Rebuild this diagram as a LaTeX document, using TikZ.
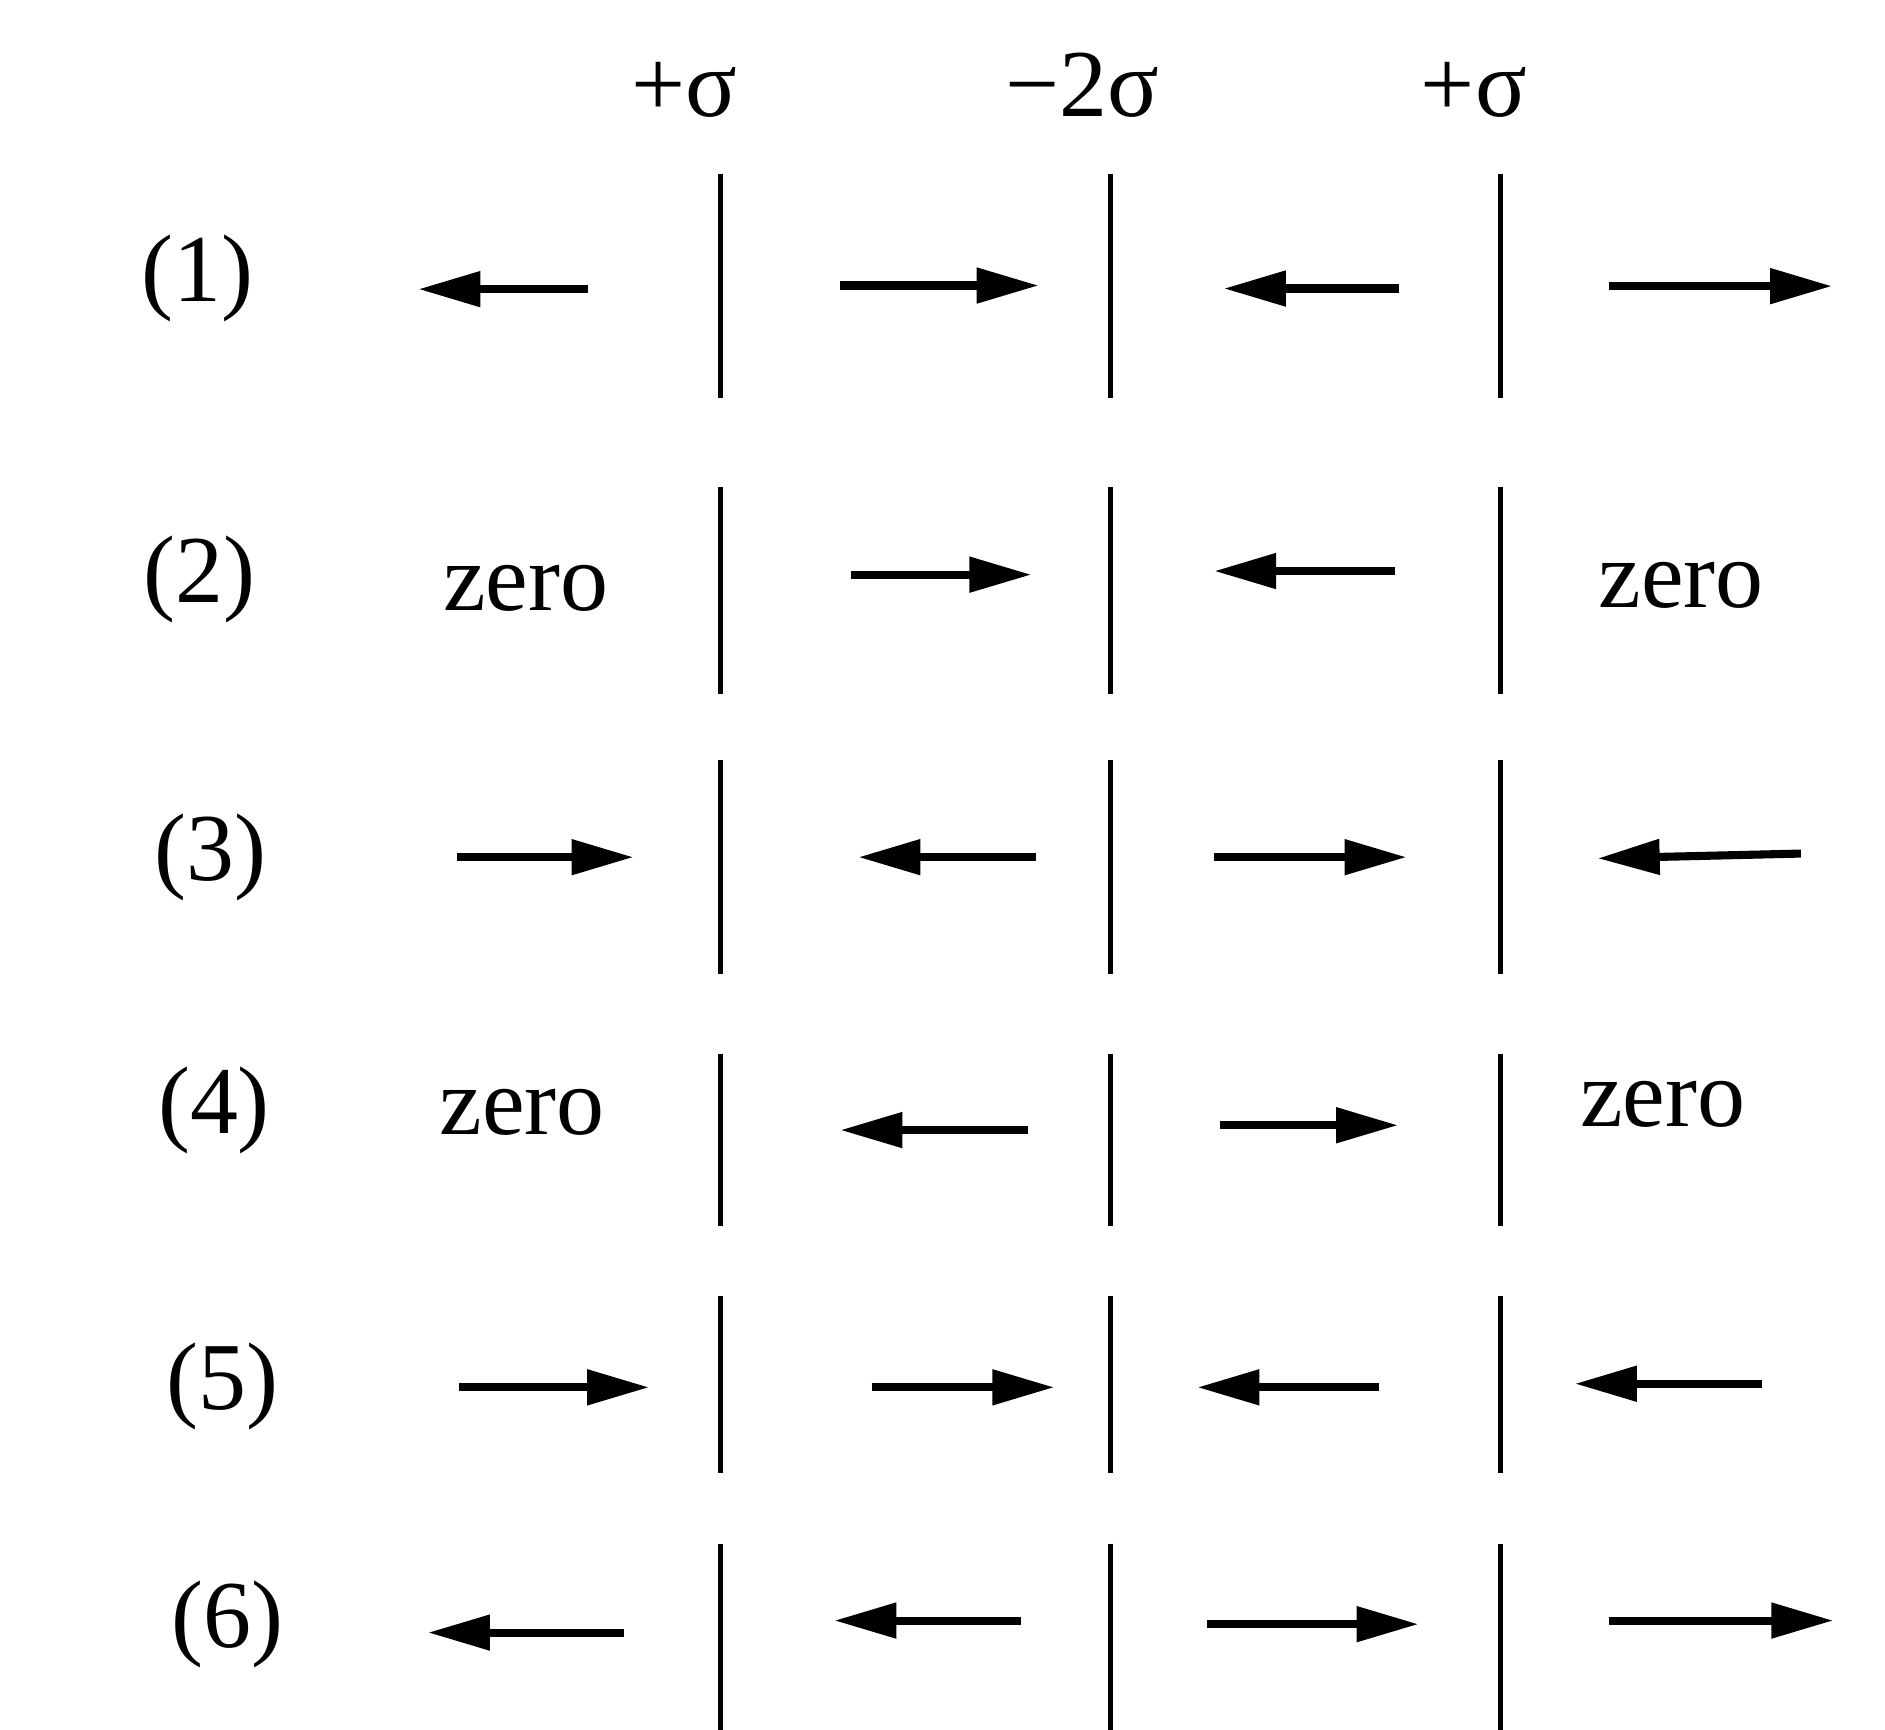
\documentclass[tikz,border=0pt]{standalone}
\usepackage{fontspec}
\setmainfont{Liberation Serif}
\usetikzlibrary{arrows.meta}
\begin{document}
\begin{tikzpicture}[x=0.012022cm,y=-0.012022cm,
  wall/.style={line width=1.4pt},
  fld/.style={line width=2.3pt,-{Triangle[length=0.62cm,width=0.34cm]}},
  lbl/.style={inner sep=0pt,font=\fontsize{27.3}{33}\selectfont},
  toplbl/.style={lbl,anchor=base},
  zerolbl/.style={lbl,anchor=base west}]
\fill[white] (0,0) rectangle (1568,1439);
\useasboundingbox (0,0) rectangle (1568,1439);
% charge labels
\node[toplbl] (s1) at (569,97) {+σ};
\node[toplbl] (s2) at (900,97) {−2σ};
\node[toplbl] (s3) at (1226,97) {+σ};
% walls
\foreach \t/\b in {145/331,405/577,632/810,877/1020,1078/1225,1284/1439}{
  \draw[wall] (599,\t) -- (599,\b);
  \draw[wall] (924,\t) -- (924,\b);
  \draw[wall] (1248,\t) -- (1248,\b);
}
% row labels
\node[lbl] (r1) at (164,232) {(1)};
\node[lbl] (r2) at (166,482) {(2)};
\node[lbl] (r3) at (175,713) {(3)};
\node[lbl] (r4) at (178,924) {(4)};
\node[lbl] (r5) at (185,1153) {(5)};
\node[lbl] (r6) at (189,1351) {(6)};
% row 1
\draw[fld] (489,240.5) -- (348,240.5);
\draw[fld] (699,237.5) -- (864,237.5);
\draw[fld] (1164,240) -- (1018,240);
\draw[fld] (1338,238) -- (1524,238);
% row 2
\node[zerolbl] (z2a) at (368,508) {zero};
\draw[fld] (708,478) -- (858,478);
\draw[fld] (1160,475) -- (1010,475);
\node[zerolbl] (z2b) at (1329,505) {zero};
% row 3
\draw[fld] (380,713) -- (527,713);
\draw[fld] (862,713) -- (714,713);
\draw[fld] (1010,713) -- (1170,713);
\draw[fld] (1498,710) -- (1329,714);
% row 4
\node[zerolbl] (z4a) at (365,944) {zero};
\draw[fld] (855,940) -- (699,940);
\draw[fld] (1015,936) -- (1163,936);
\node[zerolbl] (z4b) at (1314,937) {zero};
% row 5
\draw[fld] (382,1154) -- (540,1154);
\draw[fld] (725,1154) -- (877,1154);
\draw[fld] (1147,1154) -- (996,1154);
\draw[fld] (1466,1151) -- (1310,1151);
% row 6
\draw[fld] (519,1358) -- (356,1358);
\draw[fld] (849,1348) -- (694,1348);
\draw[fld] (1004,1351) -- (1180,1351);
\draw[fld] (1338,1348) -- (1525,1348);
\end{tikzpicture}
\end{document}
